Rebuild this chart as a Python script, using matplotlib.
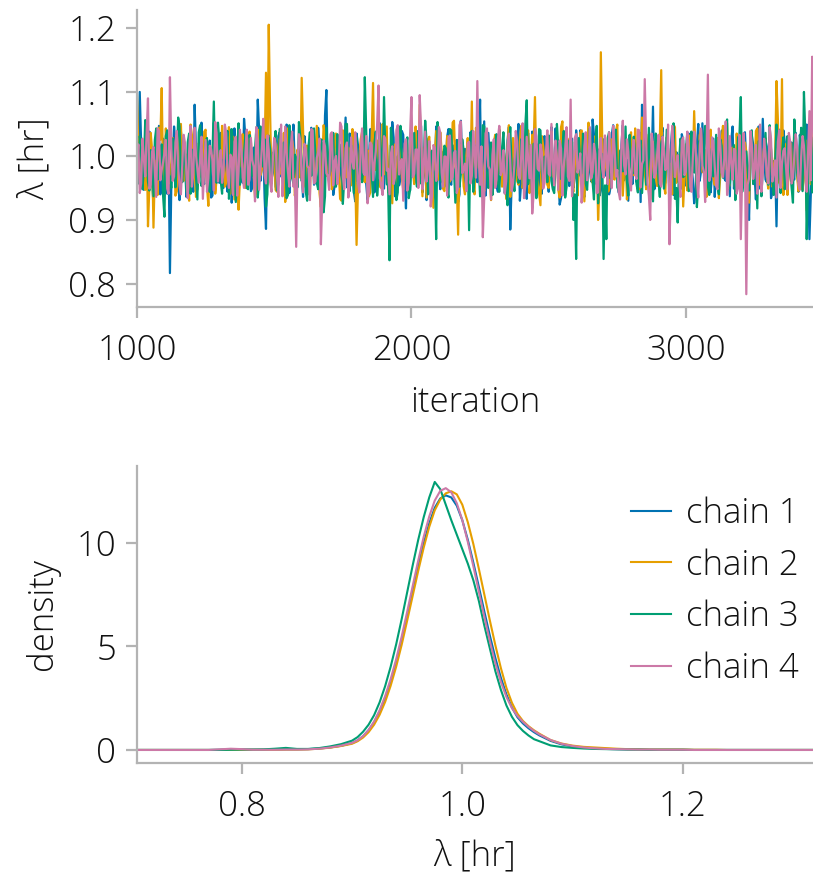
import matplotlib
matplotlib.use("Agg")
import matplotlib.pyplot as plt
import numpy as np

plt.rcParams['font.family'] = ['Open Sans', 'DejaVu Sans']
plt.rcParams['font.weight'] = 300
plt.rcParams['axes.labelweight'] = 300

# --- trace data: draws at iterations 1000, 1010, ... (a) and 1005, 1015, ... (b) ---
iter_start, iter_step = 1000, 10

chain1_a = [
    0.962, 1.100, 0.951, 1.012, 0.978, 1.034, 0.925, 0.994, 1.047, 0.968,
    1.005, 0.941, 0.817, 0.990, 1.021, 0.957, 1.038, 0.973, 0.936, 1.015,
    0.982, 1.080, 0.948, 1.003, 0.964, 1.029, 0.991, 0.935, 1.052, 0.976,
    0.958, 1.018, 0.996, 0.944, 1.041, 0.972, 1.009, 0.927, 0.985, 1.058,
    0.967, 1.024, 0.950, 0.999, 1.088, 0.961, 1.013, 0.886, 1.032, 0.979,
    1.001, 0.946, 1.037, 0.970, 0.932, 1.020, 0.989, 1.049, 0.955, 1.008,
    0.974, 1.031, 0.939, 0.993, 1.016, 0.960, 1.044, 0.981, 0.929, 1.103,
    0.968, 1.011, 0.953, 1.027, 0.987, 0.940, 1.060, 0.976, 1.004, 0.945,
    1.035, 0.963, 0.997, 1.019, 0.931, 1.042, 0.978, 0.956, 1.010, 0.984,
    0.949, 1.026, 0.971, 1.053, 0.937, 1.000, 0.965, 1.033, 0.918, 0.992,
    1.014, 0.958, 1.039, 0.982, 0.943, 1.023, 0.969, 1.007, 0.934, 1.046,
    0.975, 0.998, 0.952, 1.030, 0.961, 1.017, 0.990, 0.928, 1.055, 0.972,
    1.006, 0.947, 1.022, 0.979, 0.959, 1.088, 0.995, 0.938, 1.036, 0.966,
    1.012, 0.954, 1.041, 0.986, 0.942, 1.025, 0.885, 1.003, 0.973, 1.050,
    0.960, 1.019, 0.933, 0.997, 1.038, 0.970, 1.008, 0.951, 1.028, 0.983,
    0.944, 1.045, 0.976, 1.002, 0.924, 1.031, 0.964, 1.015, 0.988, 0.950,
    1.040, 0.969, 0.999, 0.936, 1.021, 0.978, 1.057, 0.957, 1.010, 0.946,
    1.026, 0.981, 0.940, 1.034, 0.967, 1.005, 0.953, 1.048, 0.974, 0.930,
    1.018, 0.993, 0.959, 1.037, 1.080, 0.971, 1.009, 0.945, 1.077, 0.962,
    0.996, 1.029, 0.955, 1.013, 0.939, 1.043, 0.977, 1.000, 0.948, 1.024,
    0.968, 1.035, 0.985, 0.926, 1.016, 0.961, 1.051, 0.974, 1.007, 0.943,
    1.027, 0.980, 0.954, 1.039, 0.965, 1.011, 0.937, 1.046, 0.972, 0.998,
    0.957, 1.020, 0.989, 0.900, 1.032, 0.970, 1.004, 0.949, 1.058, 0.963,
    1.015, 0.934, 0.992, 0.890, 1.041, 0.976, 1.023, 0.952, 1.002, 0.967,
    1.036, 0.944, 1.012, 0.983, 1.049, 0.870, 0.997, 0.958, 1.030, 0.975,
]
chain1_b = [
    0.983, 1.021, 0.947, 0.996, 1.038, 0.959, 1.012, 0.971, 0.940, 1.027,
    0.965, 1.004, 0.953, 1.046, 0.978, 0.931, 1.015, 0.988, 0.962, 1.033,
    0.944, 1.009, 0.975, 1.052, 0.956, 0.993, 1.024, 0.938, 1.001, 0.969,
    1.036, 0.950, 0.986, 1.018, 0.927, 1.043, 0.972, 0.999, 0.958, 1.030,
    0.980, 0.945, 1.013, 0.966, 1.040, 0.991, 0.934, 1.022, 0.976, 1.005,
    0.952, 1.031, 0.968, 0.997, 1.049, 0.942, 1.016, 0.984, 0.960, 1.028,
    0.936, 1.007, 0.979, 1.044, 0.955, 0.992, 1.019, 0.947, 1.063, 0.970,
    1.010, 0.939, 0.987, 1.026, 0.963, 1.002, 0.951, 1.035, 0.976, 0.929,
    1.017, 0.968, 1.041, 0.957, 0.995, 1.023, 0.943, 0.982, 1.051, 0.961,
    1.008, 0.974, 0.935, 1.029, 0.989, 0.954, 1.039, 0.966, 1.003, 0.946,
    1.020, 0.985, 0.958, 1.047, 0.972, 0.931, 1.014, 0.993, 0.962, 1.032,
    0.948, 1.006, 0.977, 1.042, 0.955, 0.999, 1.025, 0.940, 0.987, 1.011,
    0.969, 1.037, 0.952, 0.994, 1.018, 0.937, 1.054, 0.975, 1.001, 0.959,
    1.028, 0.944, 0.990, 1.013, 0.967, 1.045, 0.956, 0.983, 1.021, 0.930,
    1.004, 0.973, 1.036, 0.950, 0.996, 1.019, 0.963, 0.941, 1.031, 0.980,
    1.009, 0.957, 1.043, 0.971, 0.934, 1.016, 0.988, 0.953, 1.027, 0.965,
    0.998, 1.040, 0.946, 0.982, 1.012, 0.960, 1.033, 0.975, 0.938, 1.022,
    0.969, 1.005, 0.950, 1.048, 0.985, 0.943, 1.017, 0.962, 0.994, 1.030,
    0.956, 1.002, 0.977, 0.928, 1.039, 0.966, 1.011, 0.984, 0.948, 1.024,
    0.972, 1.044, 0.958, 0.991, 1.015, 0.939, 1.006, 0.979, 1.034, 0.953,
    0.987, 1.020, 0.964, 0.945, 1.050, 0.976, 1.003, 0.957, 1.028, 0.970,
    0.936, 1.013, 0.989, 1.041, 0.961, 0.997, 1.023, 0.949, 0.981, 1.008,
    0.966, 1.037, 0.954, 0.993, 1.018, 0.932, 1.046, 0.974, 1.000, 0.959,
    1.026, 0.943, 0.986, 1.012, 0.968, 1.040, 0.951, 0.978, 1.021, 0.963,
    0.995, 1.033, 0.947, 1.009, 0.972, 0.940, 1.029, 0.982, 1.004, 0.956,
]
chain2_a = [
    1.095, 0.958, 1.021, 0.947, 0.890, 1.036, 0.888, 0.993, 1.044, 1.106,
    0.955, 1.010, 0.972, 1.028, 0.938, 0.986, 1.050, 0.961, 1.002, 0.930,
    1.033, 0.977, 0.949, 1.015, 0.968, 1.041, 0.922, 0.999, 1.025, 0.963,
    0.987, 1.047, 0.952, 1.008, 0.941, 1.030, 0.974, 0.916, 1.019, 0.995,
    0.960, 1.038, 0.979, 0.935, 1.012, 0.970, 1.055, 1.130, 1.205, 0.957,
    1.004, 0.944, 1.027, 0.982, 0.928, 1.043, 0.965, 1.011, 0.951, 0.990,
    1.122, 0.962, 1.016, 0.939, 1.035, 0.975, 0.998, 0.920, 1.048, 0.969,
    1.006, 0.948, 1.029, 0.984, 0.933, 1.040, 0.966, 1.013, 0.954, 1.022,
    0.861, 0.996, 1.037, 0.959, 1.009, 0.943, 1.114, 0.978, 1.025, 0.950,
    0.992, 1.046, 0.963, 0.926, 1.018, 0.981, 1.034, 0.947, 1.003, 0.971,
    1.042, 0.956, 1.014, 1.080, 0.937, 0.994, 1.026, 0.967, 0.919, 1.039,
    0.976, 1.007, 0.945, 1.031, 0.960, 1.052, 0.985, 0.877, 1.017, 0.953,
    1.000, 0.969, 1.085, 0.940, 1.023, 0.973, 0.958, 1.036, 0.989, 0.931,
    1.020, 0.964, 1.044, 0.952, 0.997, 1.012, 0.936, 1.028, 0.979, 0.955,
    1.047, 0.968, 1.005, 0.942, 1.033, 1.092, 0.961, 0.923, 1.015, 0.987,
    0.950, 1.038, 0.974, 1.010, 0.935, 1.054, 0.966, 0.995, 1.024, 0.944,
    1.008, 0.977, 1.040, 0.929, 0.991, 1.019, 0.958, 1.031, 0.900, 1.162,
    0.972, 1.003, 0.946, 1.026, 0.963, 1.049, 0.983, 0.938, 1.014, 0.957,
    1.037, 0.970, 0.999, 0.948, 1.060, 0.976, 1.011, 0.932, 1.022, 0.965,
    1.002, 1.134, 0.954, 1.029, 0.980, 0.940, 1.045, 0.969, 1.006, 0.921,
    1.018, 0.961, 0.993, 1.070, 0.947, 1.032, 0.975, 1.009, 0.952, 1.041,
    0.966, 0.998, 0.934, 1.024, 0.979, 1.051, 0.957, 1.013, 0.943, 0.990,
    1.035, 0.962, 1.007, 0.927, 1.020, 0.971, 1.043, 0.955, 0.996, 1.028,
    0.949, 1.010, 0.984, 1.117, 0.958, 1.120, 0.967, 0.939, 1.021, 0.976,
    1.002, 0.945, 1.037, 0.968, 0.915, 1.026, 0.981, 1.048, 0.953, 1.005,
]
chain2_b = [
    1.012, 0.962, 0.994, 1.037, 0.951, 1.008, 0.976, 0.939, 1.025, 0.968,
    1.043, 0.957, 0.989, 1.016, 0.945, 1.031, 0.973, 1.002, 0.960, 1.049,
    0.982, 0.936, 1.020, 0.967, 1.038, 0.953, 0.997, 1.011, 0.941, 1.027,
    0.975, 1.004, 0.958, 1.045, 0.986, 0.932, 1.018, 0.964, 1.034, 0.950,
    0.993, 1.022, 0.970, 0.944, 1.041, 0.979, 1.007, 0.955, 1.068, 0.985,
    0.947, 1.015, 0.972, 1.036, 0.959, 0.998, 1.024, 0.938, 1.010, 0.966,
    1.040, 0.951, 0.983, 1.019, 0.963, 1.047, 0.942, 0.991, 1.029, 0.969,
    1.003, 0.956, 1.035, 0.977, 0.930, 1.014, 0.988, 0.961, 1.042, 0.974,
    0.948, 1.026, 0.965, 1.000, 0.937, 1.032, 0.980, 1.009, 0.952, 1.050,
    0.971, 0.943, 1.017, 0.990, 0.959, 1.039, 0.967, 1.005, 0.946, 1.023,
    0.978, 1.046, 0.954, 0.995, 1.013, 0.935, 1.030, 0.973, 1.001, 0.962,
    1.037, 0.949, 0.987, 1.021, 0.966, 1.055, 0.958, 0.992, 1.012, 0.940,
    1.028, 0.975, 0.953, 1.044, 0.982, 1.006, 0.945, 1.019, 0.969, 0.996,
    1.033, 0.957, 0.984, 1.010, 0.933, 1.048, 0.971, 1.002, 0.961, 1.025,
    0.950, 0.989, 1.040, 0.964, 1.015, 0.978, 0.942, 1.031, 0.986, 0.955,
    1.020, 0.968, 1.003, 0.947, 1.045, 0.976, 0.993, 1.027, 0.959, 1.008,
    0.938, 1.036, 0.972, 0.998, 1.052, 0.963, 0.981, 1.016, 0.951, 1.029,
    0.985, 0.944, 1.022, 0.967, 1.039, 0.956, 1.004, 0.979, 0.932, 1.013,
    0.990, 1.043, 0.961, 0.995, 1.018, 0.948, 1.034, 0.973, 1.007, 0.953,
    1.026, 0.965, 0.941, 1.011, 0.987, 1.049, 0.958, 0.997, 1.023, 0.970,
    0.946, 1.032, 0.980, 1.001, 0.960, 1.041, 0.974, 0.936, 1.017, 0.992,
    0.955, 1.028, 0.968, 1.047, 0.983, 0.949, 1.010, 0.977, 1.035, 0.962,
    0.994, 1.021, 0.943, 1.006, 0.971, 1.039, 0.957, 0.988, 1.014, 0.966,
    1.030, 0.952, 0.999, 1.058, 0.975, 0.939, 1.019, 0.984, 0.961, 1.044,
    0.970, 1.009, 0.947, 1.025, 0.990, 0.956, 1.036, 0.978, 1.003, 0.964,
]
chain3_a = [
    0.975, 1.031, 0.948, 1.056, 0.960, 1.009, 0.937, 1.043, 0.982, 1.018,
    0.905, 1.040, 0.966, 1.027, 0.951, 1.060, 0.979, 1.012, 0.944, 1.035,
    0.963, 1.001, 0.932, 1.048, 0.971, 1.022, 0.955, 1.006, 1.085, 0.958,
    1.024, 0.941, 0.995, 1.039, 0.962, 1.015, 0.928, 1.051, 0.976, 1.003,
    0.950, 1.033, 0.969, 1.010, 0.935, 1.046, 0.983, 0.921, 1.028, 0.964,
    1.019, 0.946, 1.042, 0.978, 1.004, 0.939, 1.030, 0.957, 0.997, 1.053,
    0.961, 1.014, 0.930, 1.037, 0.974, 1.000, 0.948, 1.026, 0.912, 1.044,
    0.969, 1.008, 0.953, 1.034, 0.984, 0.925, 1.050, 0.966, 1.017, 0.942,
    1.029, 0.976, 0.959, 1.123, 0.947, 1.011, 0.936, 1.038, 0.970, 1.002,
    1.092, 0.956, 0.837, 1.023, 0.981, 0.943, 1.047, 0.967, 1.013, 0.934,
    0.998, 1.036, 0.952, 1.020, 0.964, 1.055, 0.940, 1.005, 0.978, 0.870,
    1.031, 0.960, 1.016, 0.946, 1.042, 0.985, 0.927, 1.025, 0.972, 1.009,
    0.954, 0.884, 1.039, 0.968, 1.003, 0.937, 1.048, 0.979, 0.950, 1.021,
    0.963, 1.034, 0.944, 1.012, 0.989, 0.923, 1.045, 0.971, 1.007, 0.958,
    1.026, 0.948, 1.087, 0.975, 0.931, 1.019, 0.966, 1.040, 0.955, 0.996,
    1.032, 0.961, 0.942, 1.050, 0.980, 1.011, 0.935, 1.024, 0.969, 0.900,
    0.839, 1.028, 0.973, 1.006, 0.947, 1.043, 0.959, 1.015, 0.926, 0.990,
    0.839, 0.870, 1.037, 0.965, 1.021, 0.951, 1.008, 0.976, 1.046, 0.938,
    0.984, 1.030, 0.956, 1.013, 0.942, 1.052, 0.970, 0.997, 0.929, 1.035,
    0.962, 1.018, 0.949, 1.041, 0.977, 1.004, 0.933, 0.896, 1.027, 0.967,
    1.010, 0.945, 1.038, 0.974, 0.920, 1.024, 0.986, 1.047, 0.953, 1.001,
    0.968, 1.033, 0.940, 1.016, 0.979, 1.057, 0.957, 0.995, 0.931, 1.029,
    1.092, 0.963, 1.007, 0.946, 1.040, 0.972, 0.918, 1.022, 0.982, 1.036,
    0.955, 1.011, 0.939, 1.049, 0.967, 1.002, 0.948, 1.031, 0.976, 0.927,
    1.019, 0.960, 1.044, 1.100, 0.870, 1.014, 0.943, 1.038, 0.969, 0.991,
]
chain3_b = [
    0.957, 1.014, 0.982, 1.040, 0.946, 0.993, 1.025, 0.963, 1.006, 0.938,
    1.031, 0.972, 0.950, 1.017, 0.988, 1.046, 0.959, 0.998, 1.022, 0.941,
    1.010, 0.967, 1.037, 0.953, 0.985, 1.028, 0.944, 1.003, 0.976, 1.052,
    0.961, 0.994, 1.019, 0.933, 1.042, 0.970, 1.008, 0.955, 0.990, 1.034,
    0.948, 1.015, 0.979, 1.045, 0.962, 0.999, 1.026, 0.940, 1.011, 0.974,
    1.039, 0.956, 0.987, 1.021, 0.934, 1.048, 0.966, 1.002, 0.951, 1.030,
    0.980, 0.943, 1.016, 0.969, 1.043, 0.958, 0.995, 1.024, 0.937, 1.007,
    0.977, 1.036, 0.952, 0.989, 1.018, 0.964, 1.050, 0.945, 0.996, 1.027,
    0.960, 1.009, 0.983, 1.041, 0.949, 0.973, 1.020, 0.938, 1.032, 0.968,
    1.005, 0.954, 1.044, 0.981, 0.931, 1.013, 0.991, 0.961, 1.029, 0.947,
    1.017, 0.976, 1.038, 0.957, 0.997, 1.023, 0.942, 1.008, 0.971, 1.053,
    0.963, 0.988, 1.012, 0.935, 1.040, 0.978, 1.001, 0.952, 1.026, 0.966,
    0.998, 1.034, 0.944, 1.016, 0.985, 0.958, 1.046, 0.973, 1.004, 0.939,
    1.021, 0.962, 0.992, 1.037, 0.950, 1.010, 0.979, 0.945, 1.030, 0.968,
    1.002, 1.049, 0.956, 0.986, 1.019, 0.934, 1.042, 0.975, 0.999, 0.959,
    1.027, 0.948, 0.983, 1.013, 0.964, 1.039, 0.951, 0.994, 1.022, 0.940,
    1.008, 0.970, 1.035, 0.957, 0.989, 1.015, 0.932, 1.047, 0.977, 1.003,
    0.954, 1.028, 0.965, 0.996, 1.041, 0.946, 1.011, 0.982, 0.960, 1.033,
    0.972, 1.006, 0.943, 1.024, 0.987, 0.955, 1.044, 0.967, 0.999, 1.018,
    0.936, 1.030, 0.974, 1.009, 0.961, 1.051, 0.950, 0.990, 1.014, 0.969,
    1.037, 0.947, 0.984, 1.020, 0.958, 1.003, 0.975, 1.042, 0.939, 1.012,
    0.980, 0.953, 1.026, 0.966, 1.045, 0.949, 0.995, 1.017, 0.963, 1.032,
    0.944, 1.005, 0.978, 1.038, 0.956, 0.992, 1.023, 0.937, 1.010, 0.971,
    1.048, 0.960, 0.986, 1.016, 0.942, 1.029, 0.968, 1.002, 0.951, 1.057,
    0.975, 1.013, 0.945, 1.034, 0.962, 0.998, 1.025, 0.953, 1.008, 0.981,
]
chain4_a = [
    0.990, 0.942, 1.027, 0.968, 1.090, 0.955, 1.014, 0.936, 1.039, 0.978,
    1.005, 0.949, 1.123, 0.961, 1.020, 0.983, 0.940, 1.033, 0.972, 1.008,
    0.952, 1.044, 0.979, 0.996, 0.933, 1.025, 0.965, 1.011, 0.946, 1.036,
    0.987, 0.958, 1.049, 0.970, 1.002, 0.939, 1.030, 0.975, 1.016, 0.950,
    1.041, 0.963, 0.994, 0.929, 1.023, 0.981, 1.058, 0.957, 1.009, 0.944,
    1.028, 0.969, 1.000, 0.937, 1.046, 0.976, 1.013, 0.952, 0.858, 1.034,
    0.964, 1.019, 0.985, 0.931, 1.040, 0.960, 1.006, 0.862, 1.024, 0.973,
    0.947, 1.037, 0.991, 0.956, 1.052, 0.968, 1.012, 0.935, 1.029, 0.980,
    1.003, 0.943, 1.043, 0.970, 0.926, 1.021, 0.962, 1.007, 1.110, 0.953,
    1.031, 0.977, 0.940, 1.015, 0.966, 1.048, 0.989, 0.930, 1.026, 0.958,
    1.092, 0.972, 1.010, 1.095, 0.948, 1.038, 0.983, 0.921, 1.017, 0.961,
    1.045, 0.974, 0.999, 0.938, 1.032, 0.967, 1.008, 0.951, 1.054, 0.979,
    0.945, 1.022, 0.969, 1.004, 1.117, 0.955, 0.873, 1.035, 0.984, 0.932,
    1.026, 0.963, 1.047, 0.976, 0.941, 1.013, 0.990, 0.957, 1.039, 0.970,
    1.001, 0.934, 1.030, 0.965, 0.910, 1.042, 0.980, 1.018, 0.949, 1.006,
    0.972, 1.050, 0.954, 0.996, 1.024, 0.938, 1.011, 0.968, 1.088, 0.959,
    1.034, 0.983, 0.927, 1.016, 0.962, 1.045, 0.975, 1.003, 0.943, 1.028,
    0.966, 0.998, 1.037, 0.950, 1.012, 0.978, 0.932, 1.055, 0.971, 1.007,
    0.946, 1.025, 0.964, 1.040, 0.987, 1.120, 0.958, 0.900, 1.019, 0.973,
    1.033, 0.952, 1.010, 0.981, 0.862, 1.047, 0.967, 1.001, 0.936, 1.029,
    0.976, 1.014, 0.944, 1.038, 0.960, 1.006, 0.985, 0.928, 1.127, 0.969,
    1.021, 0.953, 1.043, 0.974, 0.996, 0.939, 1.031, 0.963, 1.009, 0.950,
    0.870, 1.036, 0.784, 0.965, 1.018, 0.982, 0.941, 1.049, 0.970, 1.003,
    0.957, 1.027, 0.973, 0.935, 1.040, 0.988, 1.012, 0.948, 1.022, 0.966,
    1.034, 0.955, 0.999, 1.016, 0.944, 1.070, 1.155, 0.962, 1.025, 0.977,
]
chain4_b = [
    1.018, 0.957, 0.996, 1.034, 0.949, 1.007, 0.975, 1.043, 0.962, 0.990,
    1.025, 0.941, 1.012, 0.968, 1.039, 0.953, 0.985, 1.020, 0.934, 1.047,
    0.971, 1.001, 0.958, 1.030, 0.979, 0.944, 1.016, 0.992, 1.053, 0.960,
    1.009, 0.973, 1.036, 0.950, 0.998, 1.022, 0.938, 1.041, 0.966, 1.004,
    0.955, 1.028, 0.983, 1.045, 0.947, 1.013, 0.970, 1.032, 0.959, 0.994,
    1.019, 0.936, 1.049, 0.976, 1.006, 0.952, 1.038, 0.964, 0.989, 1.024,
    0.943, 1.011, 0.981, 1.042, 0.957, 0.997, 1.027, 0.931, 1.015, 0.969,
    1.034, 0.954, 1.000, 0.978, 1.046, 0.948, 1.021, 0.962, 0.991, 1.037,
    0.959, 1.008, 0.974, 1.031, 0.945, 1.017, 0.987, 1.050, 0.965, 0.939,
    1.026, 0.980, 1.003, 0.956, 1.040, 0.971, 0.995, 1.019, 0.946, 1.033,
    0.967, 1.010, 0.950, 1.044, 0.984, 0.960, 1.023, 0.937, 1.013, 0.976,
    1.036, 0.952, 0.999, 1.029, 0.963, 1.005, 0.942, 1.048, 0.973, 0.988,
    1.020, 0.957, 1.039, 0.966, 0.994, 1.015, 0.933, 1.043, 0.979, 1.002,
    0.950, 1.027, 0.970, 1.009, 0.960, 1.035, 0.945, 0.986, 1.022, 0.964,
    1.051, 0.955, 0.998, 1.017, 0.940, 1.031, 0.977, 1.006, 0.958, 1.040,
    0.969, 0.992, 1.024, 0.947, 1.012, 0.983, 1.045, 0.961, 0.937, 1.028,
    0.974, 1.004, 0.953, 1.037, 0.989, 0.965, 1.019, 0.942, 1.010, 0.980,
    1.032, 0.956, 0.997, 1.047, 0.968, 0.944, 1.014, 0.985, 1.026, 0.959,
    1.008, 0.972, 1.041, 0.951, 0.993, 1.021, 0.938, 1.035, 0.966, 1.001,
    0.957, 1.030, 0.978, 1.049, 0.946, 1.012, 0.987, 0.963, 1.024, 0.970,
    1.038, 0.952, 0.996, 1.016, 0.935, 1.043, 0.975, 1.005, 0.961, 1.029,
    0.983, 0.948, 1.020, 0.967, 1.054, 0.958, 0.990, 1.011, 0.941, 1.033,
    0.973, 1.000, 0.955, 1.039, 0.964, 1.017, 0.986, 0.944, 1.027, 0.969,
    1.045, 0.960, 0.993, 1.022, 0.950, 1.008, 0.979, 1.036, 0.957, 0.999,
    1.014, 0.947, 1.031, 0.972, 1.003, 0.962, 1.041, 0.985, 0.954, 1.019,
]

# --- density data (KDE of each chain) on a shared grid of lambda values ---
lam_grid = np.round(np.r_[np.linspace(0.70, 0.89, 20),
                          np.linspace(0.90, 1.065, 34),
                          np.linspace(1.07, 1.32, 26)], 3)

dens1 = [0, 0, 0, 0, 0, 0, 0, 0, 0.01, 0.02,
         0.02, 0.01, 0.01, 0.02, 0.03, 0.03, 0.04, 0.07, 0.12, 0.20,
         0.33, 0.46, 0.66, 0.95, 1.33, 1.85, 2.50, 3.30, 4.25, 5.32,
         6.48, 7.68, 8.88, 9.98, 10.95, 11.70, 12.15, 12.30, 12.20, 11.80,
         11.10, 10.15, 9.05, 7.88, 6.68, 5.52, 4.44, 3.48, 2.68, 2.05,
         1.58, 1.28, 1.05, 0.86,
         0.70, 0.44, 0.27, 0.17, 0.11, 0.08, 0.05, 0.04, 0.03, 0.02,
         0.01, 0.01, 0.01, 0.01, 0, 0, 0, 0, 0, 0, 0, 0, 0, 0, 0, 0]
dens2 = [0, 0, 0, 0, 0, 0, 0, 0, 0, 0.01,
         0.01, 0.01, 0.01, 0.01, 0.02, 0.02, 0.03, 0.06, 0.11, 0.19,
         0.30, 0.42, 0.60, 0.86, 1.22, 1.70, 2.32, 3.10, 4.02, 5.08,
         6.25, 7.45, 8.65, 9.78, 10.78, 11.58, 12.10, 12.40, 12.50, 12.35,
         11.85, 11.00, 9.95, 8.75, 7.50, 6.25, 5.05, 3.95, 3.00, 2.28,
         1.75, 1.40, 1.15, 0.95,
         0.78, 0.48, 0.31, 0.21, 0.15, 0.12, 0.09, 0.06, 0.04, 0.03,
         0.02, 0.02, 0.02, 0.02, 0.01, 0.01, 0.01, 0, 0, 0, 0, 0, 0, 0, 0, 0]
dens3 = [0, 0, 0, 0, 0, 0, 0, 0, 0, 0.01,
         0.02, 0.02, 0.03, 0.06, 0.10, 0.05, 0.05, 0.09, 0.17, 0.28,
         0.45, 0.62, 0.88, 1.22, 1.68, 2.30, 3.08, 4.02, 5.10, 6.32,
         7.62, 8.92, 10.15, 11.25, 12.20, 12.95, 12.60, 11.85, 11.10, 10.40,
         9.70, 9.00, 8.20, 7.20, 6.00, 4.90, 3.80, 2.90, 2.15, 1.60,
         1.20, 0.92, 0.70, 0.52,
         0.42, 0.22, 0.14, 0.10, 0.07, 0.05, 0.04, 0.03, 0.02, 0.02,
         0.01, 0.01, 0.01, 0.01, 0, 0, 0, 0, 0, 0, 0, 0, 0, 0, 0, 0]
dens4 = [0, 0, 0, 0, 0, 0, 0, 0, 0.03, 0.06,
         0.04, 0.01, 0.01, 0.01, 0.02, 0.02, 0.03, 0.06, 0.12, 0.21,
         0.34, 0.47, 0.67, 0.97, 1.38, 1.92, 2.60, 3.42, 4.38, 5.48,
         6.68, 7.92, 9.15, 10.30, 11.28, 12.05, 12.52, 12.65, 12.45, 11.92,
         11.10, 10.05, 8.88, 7.65, 6.42, 5.25, 4.18, 3.28, 2.56, 2.02,
         1.64, 1.36, 1.12, 0.92,
         0.75, 0.48, 0.30, 0.19, 0.12, 0.08, 0.05, 0.04, 0.03, 0.02,
         0.02, 0.01, 0.01, 0.01, 0, 0, 0, 0, 0, 0, 0, 0, 0, 0, 0, 0]

chain_labels = ["chain 1", "chain 2", "chain 3", "chain 4"]
colors = ["#0072B2", "#E69F00", "#009E73", "#CC79A7"]

W, H = 813, 876
fig = plt.figure(figsize=(W / 100, H / 100), dpi=100)
gray = "#b3b3b3"
ink = "#111111"
fs = 25


def style_axes(ax):
    for s in ("top", "right"):
        ax.spines[s].set_visible(False)
    for s in ("left", "bottom"):
        ax.spines[s].set_color(gray)
        ax.spines[s].set_linewidth(1.6)
    ax.tick_params(color=gray, width=1.6, length=8, labelsize=fs, pad=7)
    ax.tick_params(axis="x", pad=11)
    for lab in ax.get_xticklabels() + ax.get_yticklabels():
        lab.set_color(ink)


def interleave(a, b):
    return np.column_stack([a, b]).ravel()


# --- trace plot ---
ax1 = fig.add_axes([137 / W, 1 - 307 / H, (W - 137) / W, (307 - 10) / H])
for a, b, c in zip([chain1_a, chain2_a, chain3_a, chain4_a],
                   [chain1_b, chain2_b, chain3_b, chain4_b], colors):
    vals = interleave(a, b)
    its = iter_start + (iter_step / 2) * np.arange(len(vals))
    ax1.plot(its, vals, color=c, lw=1.6)
ax1.set_xlim(1000, 3463)
ax1.set_ylim(0.764, 1.228)
ax1.set_xticks([1000, 2000, 3000])
ax1.set_yticks([0.8, 0.9, 1.0, 1.1, 1.2])
ax1.set_xlabel("iteration", fontsize=fs, labelpad=13, color=ink)
ax1.set_ylabel("λ [hr]", fontsize=fs, labelpad=12, color=ink)
style_axes(ax1)

# --- density plot ---
ax2 = fig.add_axes([137 / W, 1 - 763 / H, (W - 137) / W, (763 - 466) / H])
for dens, c, lab in zip([dens1, dens2, dens3, dens4], colors, chain_labels):
    ax2.plot(lam_grid, dens, color=c, lw=1.5, label=lab)
ax2.set_xlim(0.705, 1.318)
ax2.set_ylim(-0.63, 13.72)
ax2.set_xticks([0.8, 1.0, 1.2])
ax2.set_yticks([0, 5, 10])
ax2.set_xlabel("λ [hr]", fontsize=fs, labelpad=11, color=ink)
ax2.set_ylabel("density", fontsize=fs, labelpad=12, color=ink)
style_axes(ax2)
leg = ax2.legend(loc="upper right", frameon=False, fontsize=fs,
                 handlelength=1.15, handletextpad=0.45, labelspacing=0.5,
                 borderaxespad=0.0, bbox_to_anchor=(1.0, 0.945))
for t in leg.get_texts():
    t.set_color(ink)

fig.savefig("out.png", dpi=100)
